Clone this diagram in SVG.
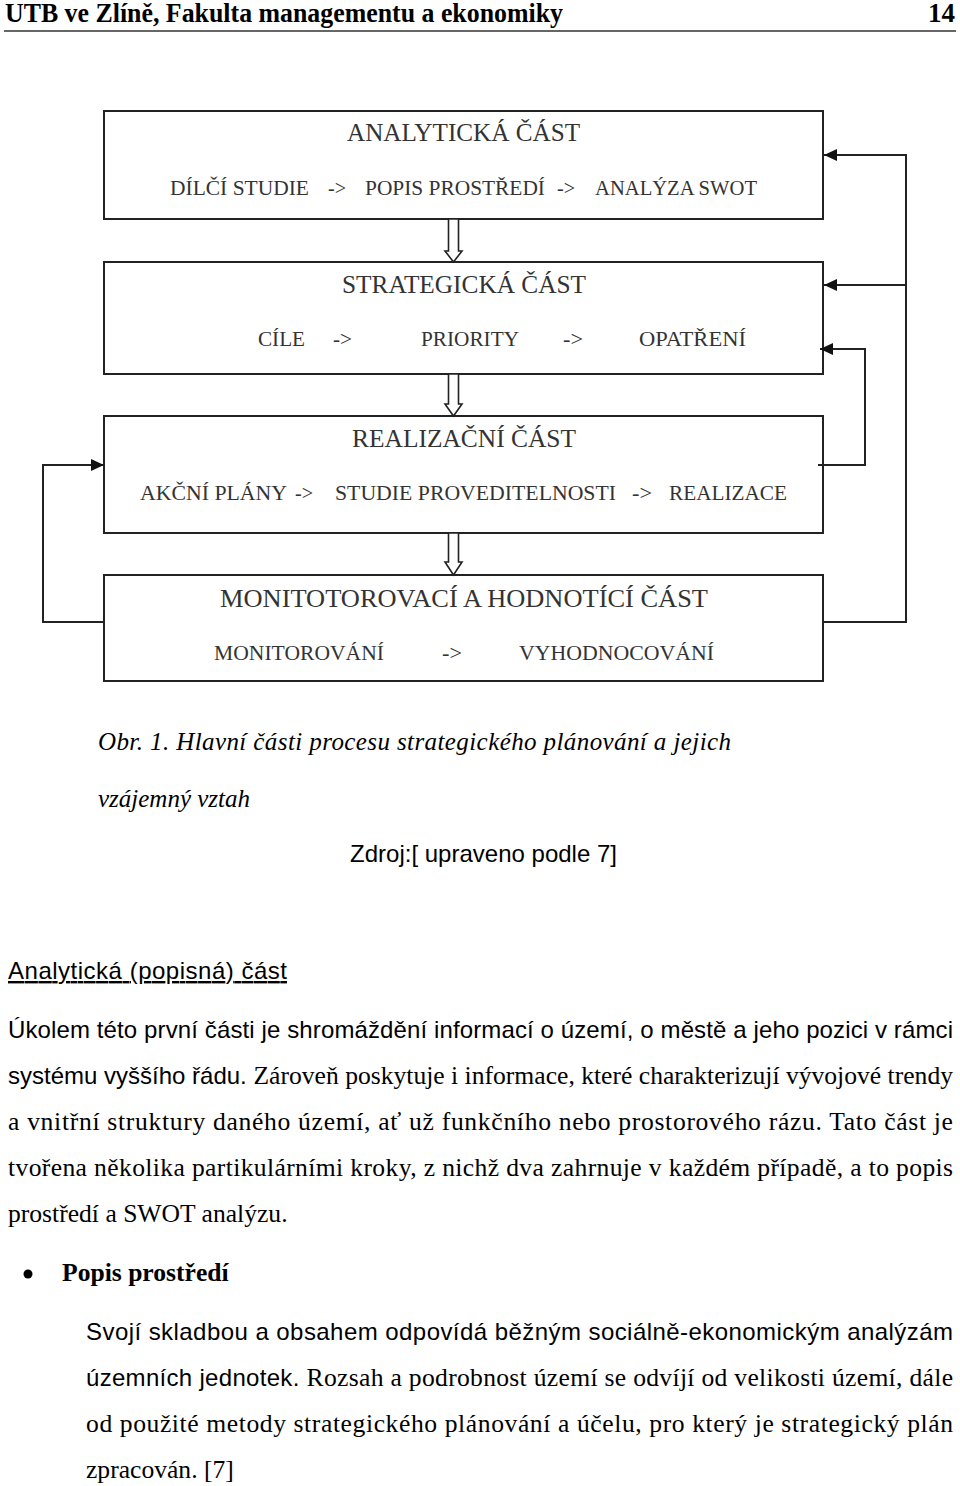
<svg xmlns="http://www.w3.org/2000/svg" width="960" height="1486" viewBox="0 0 960 1486">
<defs>
<style>
.box{fill:none;stroke:#222;stroke-width:2}
.ln{fill:none;stroke:#222;stroke-width:2}
.ha{fill:#fff;stroke:#222;stroke-width:1.6;stroke-linejoin:miter}
.t1{font-family:"Liberation Serif",serif;font-size:26px;fill:#333}
.t2{font-family:"Liberation Serif",serif;font-size:21px;fill:#333}
.hd{font-family:"Liberation Serif",serif;font-size:27px;font-weight:bold;fill:#000}
.cap{font-family:"Liberation Serif",serif;font-size:25px;font-style:italic;fill:#000}
.sans{font-family:"Liberation Sans",sans-serif;font-size:24px;fill:#000}
.ser{font-family:"Liberation Serif",serif;font-size:25.6px;fill:#000}
.bs{font-family:"Liberation Serif",serif;font-size:25.6px;font-weight:bold;fill:#000}
</style>
<marker id="ah" viewBox="0 0 13 12" refX="13" refY="6" markerWidth="13" markerHeight="12" markerUnits="userSpaceOnUse" orient="auto">
<path d="M0,0 L13,6 L0,12 Z" fill="#111"/>
</marker>
</defs>

<g id="header">
<text class="hd" x="5" y="22" textLength="558" lengthAdjust="spacingAndGlyphs">UTB ve Zlíně, Fakulta managementu a ekonomiky</text>
<text class="hd" x="955" y="22" text-anchor="end">14</text>
<line x1="4" y1="31" x2="956" y2="31" stroke="#666" stroke-width="2"/>
</g>

<g id="node-analyticka">
<rect class="box" x="104" y="111" width="719" height="108"/>
<text class="t1" x="347" y="141" textLength="233" lengthAdjust="spacingAndGlyphs">ANALYTICKÁ ČÁST</text>
<text class="t2" x="170" y="195" textLength="139" lengthAdjust="spacingAndGlyphs">DÍLČÍ STUDIE</text>
<text class="t2" x="328" y="195" textLength="18" lengthAdjust="spacingAndGlyphs">-&gt;</text>
<text class="t2" x="365" y="195" textLength="180" lengthAdjust="spacingAndGlyphs">POPIS PROSTŘEDÍ</text>
<text class="t2" x="557" y="195" textLength="18" lengthAdjust="spacingAndGlyphs">-&gt;</text>
<text class="t2" x="595" y="195" textLength="162" lengthAdjust="spacingAndGlyphs">ANALÝZA SWOT</text>
</g>

<g id="node-strategicka">
<rect class="box" x="104" y="262" width="719" height="112"/>
<text class="t1" x="342" y="293" textLength="244" lengthAdjust="spacingAndGlyphs">STRATEGICKÁ ČÁST</text>
<text class="t2" x="258" y="346" textLength="47" lengthAdjust="spacingAndGlyphs">CÍLE</text>
<text class="t2" x="333" y="346" textLength="19" lengthAdjust="spacingAndGlyphs">-&gt;</text>
<text class="t2" x="421" y="346" textLength="98" lengthAdjust="spacingAndGlyphs">PRIORITY</text>
<text class="t2" x="563" y="346" textLength="20" lengthAdjust="spacingAndGlyphs">-&gt;</text>
<text class="t2" x="639" y="346" textLength="107" lengthAdjust="spacingAndGlyphs">OPATŘENÍ</text>
</g>

<g id="node-realizacni">
<rect class="box" x="104" y="416" width="719" height="117"/>
<text class="t1" x="352" y="447" textLength="224" lengthAdjust="spacingAndGlyphs">REALIZAČNÍ ČÁST</text>
<text class="t2" x="140" y="500" textLength="147" lengthAdjust="spacingAndGlyphs">AKČNÍ PLÁNY</text>
<text class="t2" x="295" y="500" textLength="18" lengthAdjust="spacingAndGlyphs">-&gt;</text>
<text class="t2" x="335" y="500" textLength="281" lengthAdjust="spacingAndGlyphs">STUDIE PROVEDITELNOSTI</text>
<text class="t2" x="632" y="500" textLength="20" lengthAdjust="spacingAndGlyphs">-&gt;</text>
<text class="t2" x="669" y="500" textLength="118" lengthAdjust="spacingAndGlyphs">REALIZACE</text>
</g>

<g id="node-monitorovaci">
<rect class="box" x="104" y="575" width="719" height="106"/>
<text class="t1" x="220" y="607" textLength="488" lengthAdjust="spacingAndGlyphs">MONITOTOROVACÍ A HODNOTÍCÍ ČÁST</text>
<text class="t2" x="214" y="660" textLength="170" lengthAdjust="spacingAndGlyphs">MONITOROVÁNÍ</text>
<text class="t2" x="442" y="660" textLength="20" lengthAdjust="spacingAndGlyphs">-&gt;</text>
<text class="t2" x="519" y="660" textLength="195" lengthAdjust="spacingAndGlyphs">VYHODNOCOVÁNÍ</text>
</g>

<g id="connectors">
<path class="ha" d="M448.5,219 L458.5,219 L458.5,251 L462,251 L453.5,262 L445,251 L448.5,251 Z"/>
<path class="ha" d="M448.5,374 L458.5,374 L458.5,404 L462,404 L453.5,416 L445,404 L448.5,404 Z"/>
<path class="ha" d="M448.5,533 L458.5,533 L458.5,562 L462,562 L453.5,575 L445,562 L448.5,562 Z"/>
<polyline class="ln" points="823,622 906,622 906,155 824,155" marker-end="url(#ah)"/>
<line class="ln" x1="906" y1="285" x2="824" y2="285" marker-end="url(#ah)"/>
<polyline class="ln" points="818,465 865,465 865,349 820,349" marker-end="url(#ah)"/>
<polyline class="ln" points="104,622 43,622 43,465 104,465" marker-end="url(#ah)"/>
</g>

<g id="caption">
<text class="cap" x="98" y="750" textLength="633">Obr. 1. Hlavní části procesu strategického plánování a jejich</text>
<text class="cap" x="98" y="807">vzájemný vztah</text>
<text class="sans" x="350" y="862" textLength="267">Zdroj:[ upraveno podle 7]</text>
</g>

<g id="body">
<text class="sans" x="8" y="979" text-decoration="underline" textLength="279">Analytická (popisná) část</text>
<text class="sans" x="8" y="1038" textLength="945">Úkolem této první části je shromáždění informací o území, o městě a jeho pozici v rámci</text>
<text x="8" y="1084" textLength="945"><tspan class="sans">systému vyššího řádu. </tspan><tspan class="ser">Zároveň poskytuje i informace, které charakterizují vývojové trendy</tspan></text>
<text class="ser" x="8" y="1130" textLength="945">a vnitřní struktury daného území, ať už funkčního nebo prostorového rázu. Tato část je</text>
<text class="ser" x="8" y="1176" textLength="945">tvořena několika partikulárními kroky, z nichž dva zahrnuje v každém případě, a to popis</text>
<text class="ser" x="8" y="1222">prostředí a SWOT analýzu.</text>
<circle cx="28" cy="1274" r="4.5" fill="#000"/>
<text class="bs" x="62" y="1281">Popis prostředí</text>
<text class="sans" x="86" y="1340" textLength="867">Svojí skladbou a obsahem odpovídá běžným sociálně-ekonomickým analýzám</text>
<text x="86" y="1386" textLength="867"><tspan class="sans">územních jednotek. </tspan><tspan class="ser">Rozsah a podrobnost území se odvíjí od velikosti území, dále</tspan></text>
<text class="ser" x="86" y="1432" textLength="867">od použité metody strategického plánování a účelu, pro který je strategický plán</text>
<text class="ser" x="86" y="1478">zpracován. [7]</text>
</g>
</svg>
